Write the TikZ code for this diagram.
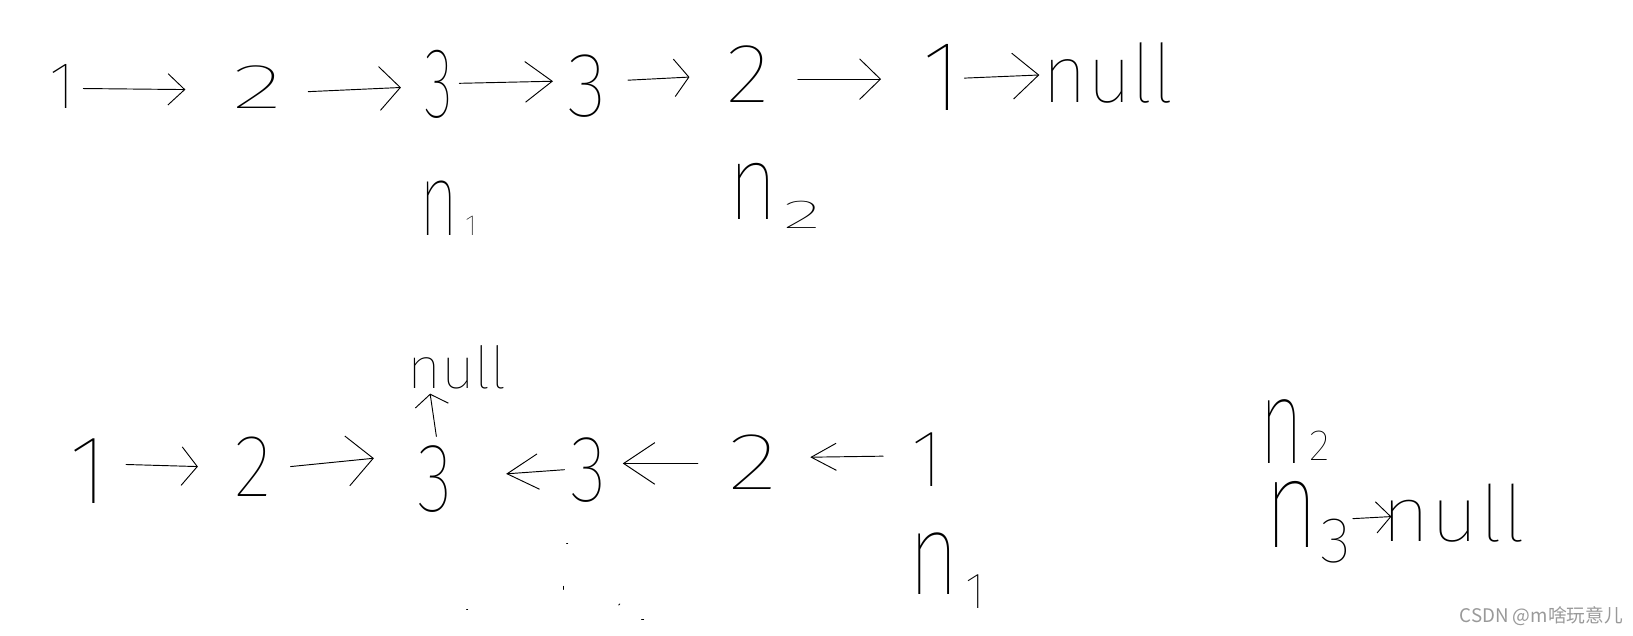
\documentclass[tikz,border=0pt]{standalone}
\usepackage{fontspec}
\usepackage{graphicx}
\newfontfamily\hand{Fira Sans Thin}
\newfontfamily\cjk{Noto Sans CJK SC}
\usetikzlibrary{arrows.meta}
\tikzset{
  ln/.style={line width=0.9pt, line cap=round, line join=round},
  hd/.style 2 args={-{Straight Barb[length=#1pt,width=#2pt]}},
  g/.style={font=\hand\fontsize{#1}{#1}\selectfont, inner sep=0pt, anchor=base},
  lab/.style={font=\hand, inner sep=0pt, anchor=base west},
}
\newcommand{\fs}[2]{{\fontsize{#1}{#1}\selectfont #2}}
\begin{document}
\begin{tikzpicture}[x=1pt,y=-1pt]
\useasboundingbox (0,0) rectangle (1568,610);
% ---------- top row ----------
\node[g=64] (t1) at (60,104) {1};
\node[g=61] (t2) at (247,104) {\scalebox{1.7}[1]{2}};
\node[g=96] (t3) at (421,113) {\scalebox{0.6}[1]{3}};
\node[g=88] (t4) at (564,112) {\scalebox{0.9}[1]{3}};
\node[g=81] (t5) at (718,98) {\scalebox{1.1}[1]{2}};
\node[g=96] (t6) at (905,106) {1};
\node[g=78] (null1) at (1064,98) {\scalebox{0.95}[1]{null}};
\draw[ln,hd={16}{30}] ([shift={(20,-19)}]t1.base) -- ([shift={(-69,-18)}]t2.base);
\draw[ln,hd={20}{42}] ([shift={(49,-16)}]t2.base) -- ([shift={(-36,-29)}]t3.base);
\draw[ln,hd={26}{39}] ([shift={(20,-33)}]t3.base) -- ([shift={(-33,-34)}]t4.base);
\draw[ln,hd={14}{36}] ([shift={(39,-35)}]t4.base) -- ([shift={(-56,-24)}]t5.base);
\draw[ln,hd={20}{39}] ([shift={(48,-22)}]t5.base) -- ([shift={(-59,-30)}]t6.base);
\draw[ln,hd={25}{44}] ([shift={(21,-31)}]t6.base) -- ([shift={(-66,-26)}]null1.base);
\node[lab] (n1a) at (403,226) {\scalebox{0.65}[1]{\fs{99}{n}}\hspace{6pt}\fs{28}{1}};
\node[lab] (n2a) at (699,211) {\scalebox{0.8}[1]{\fs{102}{n}}\hspace{6pt}\raisebox{-8pt}{\scalebox{2}[1]{\fs{39}{2}}}};
% ---------- bottom row ----------
\node[g=94] (b1) at (85,483) {1};
\node[g=85] (b2) at (243,477) {\scalebox{0.9}[1]{2}};
\node[g=94] (b3) at (418,491) {\scalebox{0.75}[1]{3}};
\node[g=91] (b4) at (565,482) {\scalebox{0.8}[1]{3}};
\node[g=78] (b5) at (723,470) {\scalebox{1.3}[1]{2}};
\node[g=78] (b6) at (891,467) {1};
\node[g=56] (null2) at (439,373) {null};
\draw[ln,hd={15}{37}] ([shift={(36,-37)}]b1.base) -- ([shift={(-53,-29)}]b2.base);
\draw[ln,hd={25}{48}] ([shift={(36,-29)}]b2.base) -- ([shift={(-59,-51)}]b3.base);
\draw[ln,hd={30}{34}] ([shift={(-23,-31)}]b4.base) -- ([shift={(68,-36)}]b3.base);
\draw[ln,hd={30}{40}] ([shift={(-53,-25)}]b5.base) -- ([shift={(33,-37)}]b4.base);
\draw[ln,hd={24}{26}] ([shift={(-43,-29)}]b6.base) -- ([shift={(55,-31)}]b5.base);
\draw[ln,hd={11}{32}] ([shift={(1,-72)}]b3.base) -- ([shift={(-26,5)}]null2.base);
\node[lab] (n1b) at (872,571) {\scalebox{0.75}[1]{\fs{112}{n}}\hspace{6pt}\raisebox{-13pt}{\fs{49}{1}}};
% ---------- right group ----------
\node[lab] (n2b) at (1209,445) {\scalebox{0.63}[1]{\fs{116}{n}}\hspace{6pt}\raisebox{3pt}{\fs{42}{2}}};
\node[lab] (n3) at (1214,526) {\scalebox{0.75}[1]{\fs{120}{n}}\hspace{1pt}\raisebox{-14pt}{\fs{62}{3}}};
\node[g=75] (null3) at (1396,520) {\scalebox{1.08}[1]{null}};
\draw[ln,hd={14}{30}] ([shift={(85,-28)}]n3.base west) -- ([shift={(-60,-24)}]null3.base);
% ---------- stray specks ----------
\draw[ln] (544,522) -- ++(1,0);
\draw[ln] (541,563) -- ++(0,3);
\draw[ln] (448,585) -- ++(1,0);
\draw[ln] (594,581) -- ++(1,-1);
\draw[ln] (616,595) -- ++(2,0);
% ---------- watermark ----------
\node[font=\cjk\fontsize{18}{18}\selectfont, text=black!40, inner sep=0pt, anchor=base] (wm) at (1480,598) {CSDN @m啥玩意儿};
\end{tikzpicture}
\end{document}
